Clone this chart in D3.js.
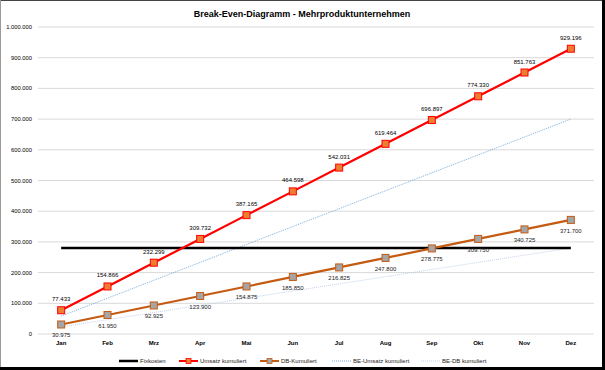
<!DOCTYPE html>
<html lang="de">
<head>
<meta charset="UTF-8">
<title>Break-Even-Diagramm</title>
<style>
  body { margin: 0; background: #fff; }
  svg { display: block; font-family: "Liberation Sans", Arial, sans-serif; }
</style>
</head>
<body>
<div id="chart"></div>
<script src="https://d3js.org/d3.v7.min.js"></script>
<script>
const [width, height] = [605, 370]

const months = ["Jan", "Feb", "Mrz", "Apr", "Mai", "Jun", "Jul", "Aug", "Sep", "Okt", "Nov", "Dez"]
const fixkosten = [280000, 280000, 280000, 280000, 280000, 280000, 280000, 280000, 280000, 280000, 280000, 280000]
const umsatzKum = [77433, 154866, 232299, 309732, 387165, 464598, 542031, 619464, 696897, 774330, 851763, 929196]
const dbKum = [30975, 61950, 92925, 123900, 154875, 185850, 216825, 247800, 278775, 309750, 340725, 371700]
const beUmsatzKum = [58333, 116667, 175000, 233333, 291667, 350000, 408333, 466667, 525000, 583333, 641667, 700000]
const beDbKum = [23333, 46667, 70000, 93333, 116667, 140000, 163333, 186667, 210000, 233333, 256667, 280000]
const yTicks = [0, 100000, 200000, 300000, 400000, 500000, 600000, 700000, 800000, 900000, 1000000]

const fmt = v => v === 0 ? "0" : d3.format(",")(v).replace(/,/g, ".")

const svg = d3.select("#chart").append("svg")
    .attr("width", width)
    .attr("height", height)

// frame
svg.append("rect").attr("x", 0).attr("y", 0).attr("width", width).attr("height", height).attr("fill", "#fff")
svg.append("line").attr("x1", 0).attr("x2", 602).attr("y1", 0.5).attr("y2", 0.5).attr("stroke", "#444")
svg.append("line").attr("x1", 0.5).attr("x2", 0.5).attr("y1", 0).attr("y2", 367).attr("stroke", "#999")
svg.append("rect").attr("x", 602).attr("y", 0).attr("width", 3).attr("height", height).attr("fill", "#000")
svg.append("rect").attr("x", 0).attr("y", 367).attr("width", width).attr("height", 3).attr("fill", "#000")

const x = d3.scaleBand().domain(months).range([38, 594])
const cx = m => x(m) + x.bandwidth() / 2
const y = d3.scaleLinear().domain([0, 1000000]).range([334, 27])

svg.append("text")
    .attr("x", 302).attr("y", 17)
    .attr("text-anchor", "middle")
    .attr("font-size", 9).attr("font-weight", "bold").attr("fill", "#000")
    .text("Break-Even-Diagramm - Mehrproduktunternehmen")

// grid
svg.append("g").selectAll("line").data(yTicks).join("line")
    .attr("x1", 38).attr("x2", 594)
    .attr("y1", d => y(d)).attr("y2", d => y(d))
    .attr("stroke", "#d9d9d9").attr("stroke-width", 1)

svg.append("g").selectAll("text").data(yTicks).join("text")
    .attr("x", 32).attr("y", d => y(d) + 2)
    .attr("text-anchor", "end")
    .attr("font-size", 5.8).attr("fill", "#000")
    .text(fmt)

svg.append("g").selectAll("text").data(months).join("text")
    .attr("x", d => cx(d)).attr("y", 345)
    .attr("text-anchor", "middle")
    .attr("font-size", 6).attr("font-weight", "bold").attr("fill", "#000")
    .text(d => d)

const line = d3.line().x((d, i) => cx(months[i])).y(d => y(d))

svg.append("path").datum(beDbKum).attr("d", line)
    .attr("fill", "none").attr("stroke", "#b4c7e7").attr("stroke-width", 0.8).attr("stroke-dasharray", "1,1")
svg.append("path").datum(beUmsatzKum).attr("d", line)
    .attr("fill", "none").attr("stroke", "#5b9bd5").attr("stroke-width", 0.8).attr("stroke-dasharray", "1,1")
svg.append("path").datum(fixkosten).attr("d", line)
    .attr("fill", "none").attr("stroke", "#000").attr("stroke-width", 2.5)
svg.append("path").datum(dbKum).attr("d", line)
    .attr("fill", "none").attr("stroke", "#c55a11").attr("stroke-width", 2.2)
svg.append("path").datum(umsatzKum).attr("d", line)
    .attr("fill", "none").attr("stroke", "#ff0000").attr("stroke-width", 2.2)

function markers(data, fill, stroke) {
    svg.append("g").selectAll("rect").data(data).join("rect")
        .attr("x", (d, i) => cx(months[i]) - 3.5)
        .attr("y", d => y(d) - 3.5)
        .attr("width", 7).attr("height", 7)
        .attr("fill", fill).attr("stroke", stroke).attr("stroke-width", 1)
}
markers(dbKum, "#a5a5a5", "#c55a11")
markers(umsatzKum, "#ed7d31", "#ff0000")

svg.append("g").selectAll("text").data(umsatzKum).join("text")
    .attr("x", (d, i) => cx(months[i])).attr("y", d => y(d) - 9)
    .attr("text-anchor", "middle")
    .attr("font-size", 6).attr("fill", "#000")
    .text(fmt)

svg.append("g").selectAll("text").data(dbKum).join("text")
    .attr("x", (d, i) => cx(months[i])).attr("y", d => y(d) + 13)
    .attr("text-anchor", "middle")
    .attr("font-size", 6).attr("fill", "#222")
    .text(fmt)

// legend
const legend = [
    { name: "Fixkosten", x: 119, color: "#000", w: 2.5, dash: null, mk: null },
    { name: "Umsatz kumuliert", x: 179, color: "#ff0000", w: 2, dash: null, mk: ["#ed7d31", "#ff0000"] },
    { name: "DB-Kumuliert", x: 260, color: "#c55a11", w: 2, dash: null, mk: ["#a5a5a5", "#c55a11"] },
    { name: "BE-Umsatz kumuliert", x: 332, color: "#5b9bd5", w: 0.8, dash: "1,1", mk: null },
    { name: "BE-DB kumuliert", x: 421, color: "#b4c7e7", w: 0.8, dash: "1,1", mk: null }
]
const lg = svg.append("g").selectAll("g").data(legend).join("g")
    .attr("transform", d => `translate(${d.x},361)`)
lg.append("line").attr("x1", 0).attr("x2", 19).attr("y1", 0).attr("y2", 0)
    .attr("stroke", d => d.color).attr("stroke-width", d => d.w)
    .attr("stroke-dasharray", d => d.dash)
lg.filter(d => d.mk).append("rect")
    .attr("x", 7).attr("y", -2.5).attr("width", 5).attr("height", 5)
    .attr("fill", d => d.mk[0]).attr("stroke", d => d.mk[1]).attr("stroke-width", 0.8)
lg.append("text").attr("x", 21).attr("y", 2)
    .attr("font-size", 6).attr("fill", "#222")
    .text(d => d.name)
</script>
</body>
</html>
